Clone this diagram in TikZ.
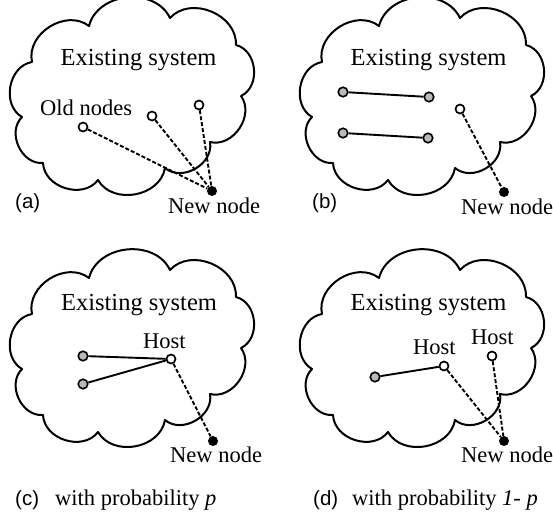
\documentclass[tikz,border=0pt]{standalone}
\usepackage{fontspec}
\setmainfont{Liberation Serif}
\newfontfamily\labelfont{Liberation Sans}
\tikzset{
  cloudline/.style={line width=2pt, line join=round},
  bump/.style={bend left=70, looseness=1.1},
  hollow/.style={circle, draw, fill=white, line width=1.7pt, minimum size=9pt, inner sep=0pt},
  grayn/.style={circle, draw, fill=black!27, line width=1.6pt, minimum size=9.5pt, inner sep=0pt},
  newn/.style={circle, fill=black, minimum size=10pt, inner sep=0pt},
  dashedge/.style={line width=1.9pt, dash pattern=on 4pt off 2pt},
  solidedge/.style={line width=1.9pt},
  bigtext/.style={font=\fontsize{24.5}{28}\selectfont, inner sep=0pt, anchor=base},
  txt/.style={font=\fontsize{22.5}{26}\selectfont, inner sep=0pt, anchor=base west},
  lab/.style={font=\labelfont\fontsize{20.5}{24}\selectfont, inner sep=0pt, anchor=base west},
  cloudshape/.pic={
    \draw[cloudline] (32,62) to[bump] (89,26) to[bump] (170,18) to[bump] (236,45)
      to[bump] (241,96) to[bump] (210,142) to[bump] (165,168) to[bump] (98,180)
      to[bump] (43,163) to[bump] (22,117) to[bump] cycle;
  }
}
\begin{document}
\begin{tikzpicture}[x=1pt, y=-1pt]
\useasboundingbox (0,0) rectangle (553,514);
% clouds
\pic at (0,0) {cloudshape};
\pic at (290,0) {cloudshape};
\pic at (0,252) {cloudshape};
\pic at (290,252) {cloudshape};

% ---------- (a)
\node[bigtext] (ta) at (138.5,65) {Existing system};
\node[txt] (olda) at (40,115) {Old nodes};
\node[hollow] (a1) at (83,127) {};
\node[hollow] (a2) at (152,116) {};
\node[hollow] (a3) at (199,105) {};
\node[newn] (an) at (212,191) {};
\node[txt] (newa) at (168,213) {New node};
\node[lab] (la) at (15,208) {(a)};
\draw[dashedge] (a1) -- (an);
\draw[dashedge] (a2) -- (an);
\draw[dashedge] (a3) -- (an);

% ---------- (b)
\node[bigtext] (tb) at (428.5,65) {Existing system};
\node[grayn] (b1) at (343,92) {};
\node[grayn] (b2) at (429,97) {};
\node[grayn] (b3) at (343,133) {};
\node[grayn] (b4) at (428,138) {};
\node[hollow] (b5) at (460,109) {};
\node[newn] (bn) at (504,192) {};
\node[txt] (newb) at (461,214) {New node};
\node[lab] (lb) at (312,208) {(b)};
\draw[solidedge] (b1) -- (b2);
\draw[solidedge] (b3) -- (b4);
\draw[dashedge] (b5) -- (bn);

% ---------- (c)
\node[bigtext] (tc) at (139,310) {Existing system};
\node[txt] (hostc) at (143,348) {Host};
\node[grayn] (c1) at (83,356) {};
\node[grayn] (c2) at (83,384) {};
\node[hollow] (ch) at (171,359) {};
\node[newn] (cn) at (213,441) {};
\node[txt] (newc) at (170,462) {New node};
\node[lab] (lc) at (15,505) {(c)};
\node[txt] (capc) at (55,505) {with probability \textit{p}};
\draw[solidedge] (c1) -- (ch);
\draw[solidedge] (c2) -- (ch);
\draw[dashedge] (ch) -- (cn);

% ---------- (d)
\node[bigtext] (td) at (428.5,310) {Existing system};
\node[txt] (hostd1) at (413,354) {Host};
\node[txt] (hostd2) at (471,344) {Host};
\node[grayn] (d1) at (375,377) {};
\node[hollow] (dh1) at (444,366) {};
\node[hollow] (dh2) at (492,356) {};
\node[newn] (dn) at (504,441) {};
\node[txt] (newd) at (461,462) {New node};
\node[lab] (ld) at (313,505) {(d)};
\node[txt] (capd) at (352,505) {with probability \textit{1- p}};
\draw[solidedge] (d1) -- (dh1);
\draw[dashedge] (dh1) -- (dn);
\draw[dashedge] (dh2) -- (dn);
\end{tikzpicture}
\end{document}
